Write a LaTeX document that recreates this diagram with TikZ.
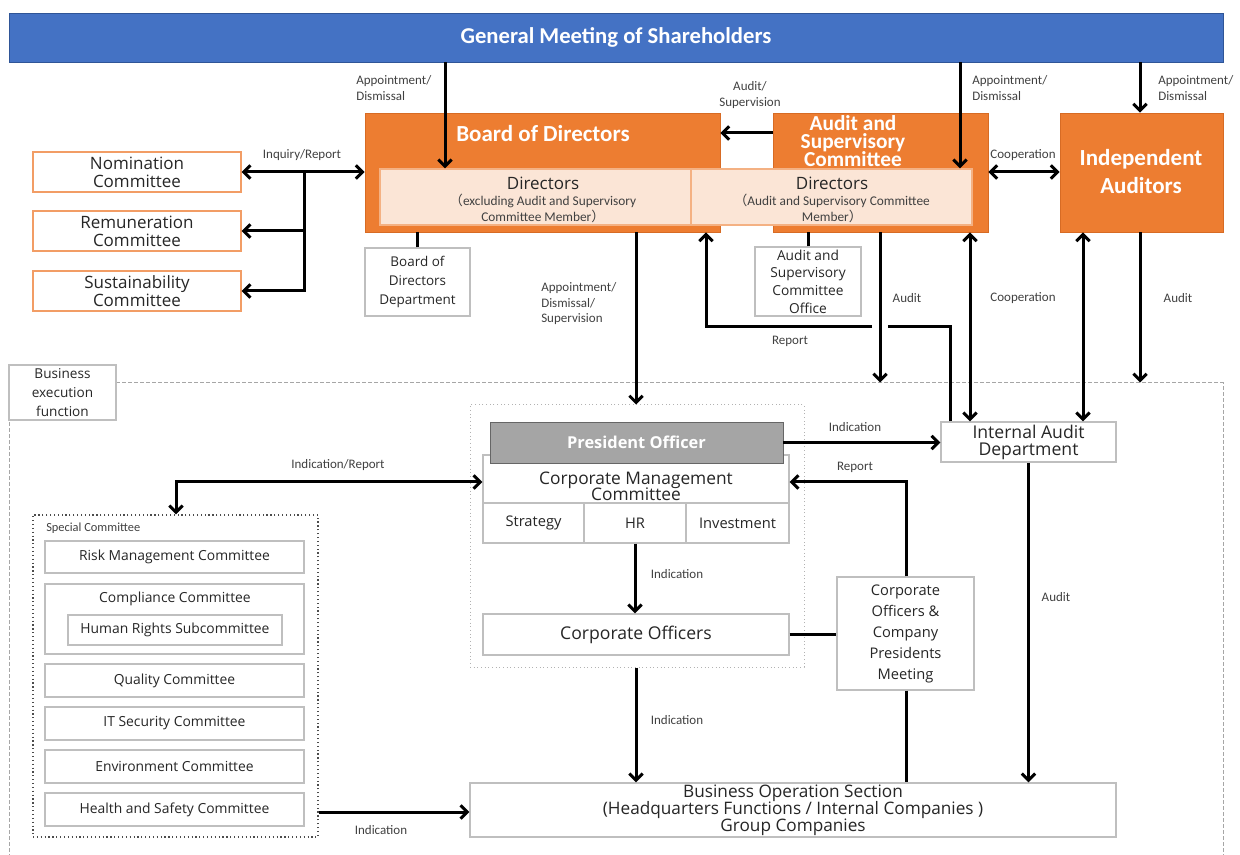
\documentclass[tikz,border=0pt]{standalone}
\usepackage{fontspec}
\setmainfont{Open Sans}
\newfontfamily\lblfont{Carlito}
\newfontfamily\cjkf{Noto Sans CJK JP}
\usetikzlibrary{arrows.meta}
\definecolor{orng}{HTML}{ED7D31}
\definecolor{orngd}{HTML}{D76B24}
\definecolor{peach}{HTML}{FBE5D6}
\definecolor{peachb}{HTML}{F4B183}
\definecolor{blu}{HTML}{4472C4}
\definecolor{blud}{HTML}{2F5597}
\definecolor{presg}{HTML}{A5A5A5}
\definecolor{bordg}{HTML}{BFBFBF}
\definecolor{txt}{HTML}{262626}
\definecolor{lbl}{HTML}{404040}
\setlength{\lineskiplimit}{-50pt}
\newcommand{\fs}[2]{\fontsize{#1}{#2}\selectfont}
\begin{document}
\begin{tikzpicture}[x=0.75pt,y=-0.75pt,
  >={Straight Barb[length=5pt,width=10pt]},
  arr/.style={line width=2.25pt,->},
  barr/.style={line width=2.25pt,<->},
  ln/.style={line width=2.25pt},
  bxat/.style n args={4}{at={({(#1+#3)/2},{(#2+#4)/2})},minimum width={(#3-#1)*0.75pt},minimum height={(#4-#2)*0.75pt},inner sep=0pt,rectangle},
  gbox/.style={draw=bordg,line width=1.1pt,fill=white,text=txt,align=center},
  obox/.style={draw=orngd,line width=0.6pt,fill=orng},
  cbox/.style={draw=orng!75,line width=1pt,fill=white,text=txt,align=center,font=\fs{12.75}{13.5}},
  pbox/.style={draw=peachb,line width=1pt,fill=peach},
  otitle/.style={text=white,font=\lblfont\bfseries\fs{17.25}{12.75},align=center,inner sep=0pt},
  lab/.style={text=lbl,font=\lblfont\fs{9.75}{11.6},inner sep=0pt},
  labw/.style={lab,align=left,anchor=west},
  labc/.style={lab,align=center},
  sbox/.style={gbox,font=\fs{10.4}{12}},
  ttxt/.style={inner sep=0pt,text=txt,align=center},
]
\useasboundingbox (0,0) rectangle (1240,855);

% ---------- top ----------
\node[bxat={9}{13}{1223}{62},fill=blu,draw=blud,line width=0.6pt,text=white,font=\lblfont\bfseries\fs{17}{20}] (gms) {General Meeting of Shareholders};

\node[obox,bxat={365}{113}{720}{232}] (bod) {};
\node[otitle] (bodt) at (543,134) {Board of Directors};
\node[obox,bxat={773}{113}{988}{232}] (asc) {};
\node[otitle,font=\lblfont\bfseries\fs{16}{13.6}] (asct) at (853,141) {Audit and\\Supervisory\\Committee};
\node[obox,bxat={1060}{113}{1223}{232}] (iaud) {};
\node[otitle,font=\lblfont\bfseries\fs{17.25}{21}] (iaudt) at (1141,172) {Independent\\Auditors};

\node[pbox,bxat={380}{169}{695}{225}] (dirx) {};
\node[pbox,bxat={691}{169}{972}{225}] (dira) {};
\node[ttxt,font=\fs{12.75}{14}] (dirxt) at (543,183) {Directors};
\node[ttxt,text=lbl,font=\lblfont\fs{10}{12}] (dirxs) at (543,208) {{\cjkf （}excluding Audit and Supervisory\\Committee Member{\cjkf ）}};
\node[ttxt,font=\fs{12.75}{14}] (dirat) at (832,183) {Directors};
\node[ttxt,text=lbl,font=\lblfont\fs{10}{12}] (diras) at (832,208) {{\cjkf （}Audit and Supervisory Committee\\Member{\cjkf ）}};

\node[cbox,bxat={33}{152}{241}{192}] (nom) {Nomination\\Committee};
\node[cbox,bxat={33}{211}{241}{251}] (rem) {Remuneration\\Committee};
\node[cbox,bxat={33}{271}{241}{311}] (sus) {Sustainability\\Committee};

\node[gbox,font=\fs{10.1}{14.25},bxat={365}{248}{470}{316}] (bodd) {Board of\\Directors\\Department};
\node[gbox,font=\fs{10.3}{13.3},bxat={755}{247}{861}{316}] (asco) {Audit and\\Supervisory\\Committee\\Office};

% ---------- business execution ----------
\node[draw=gray!70,dash pattern=on 3pt off 1.5pt,line width=0.75pt,bxat={9}{383}{1223}{880}] (bex) {};
\node[gbox,font=\fs{10.2}{14.25},bxat={9}{365}{116}{420}] (bexl) {Business\\execution\\function};

\node[draw=gray!60,dotted,line width=0.75pt,bxat={470}{405}{804}{667}] (pgrp) {};
\node[gbox,bxat={483}{455}{789}{503}] (cmc) {};
\node[ttxt,font=\fs{13}{12}] (cmct) at (636,486) {Corporate Management\\Committee};
\node[gbox,bxat={483}{503}{584}{543},font=\fs{11}{13}] (strat) {Strategy};
\node[gbox,bxat={584}{503}{686}{543},font=\fs{11}{13}] (hr) {HR};
\node[gbox,bxat={686}{503}{789}{543},font=\fs{11}{13}] (inv) {Investment};
\node[fill=presg,draw=gray!80!black,line width=0.6pt,bxat={490}{422}{783}{463},text=white,font=\bfseries\fs{12.3}{13}] (pres) {President Officer};
\node[gbox,bxat={483}{614}{789}{655},font=\fs{13.2}{15}] (co) {Corporate Officers};
\node[gbox,bxat={837}{577}{974}{690},font=\fs{11}{15.75}] (cop) {Corporate\\Officers \&\\Company\\Presidents\\Meeting};
\node[gbox,bxat={941}{422}{1116}{462},font=\fs{13.2}{12.75}] (iad) {Internal Audit\\Department};
\node[gbox,bxat={470}{783}{1116}{837},font=\fs{12.9}{12.75}] (bos) {Business Operation Section\\(Headquarters Functions / Internal Companies )\\Group Companies};

\node[draw=black!70,dotted,line width=0.9pt,bxat={33}{515}{318}{837}] (spc) {};
\node[lab,anchor=west,font=\lblfont\fs{9.3}{11}] (spcl) at (46,528) {Special Committee};
\node[sbox,bxat={45}{541}{304}{573}] (risk) {Risk Management Committee};
\node[sbox,bxat={45}{584}{304}{654}] (comp) {};
\node[ttxt,font=\fs{10.4}{12}] (compt) at (175,599) {Compliance Committee};
\node[sbox,bxat={68}{615}{282}{645}] (hrs) {Human Rights Subcommittee};
\node[sbox,bxat={45}{664}{304}{697}] (qual) {Quality Committee};
\node[sbox,bxat={45}{707}{304}{740}] (its) {IT Security Committee};
\node[sbox,bxat={45}{750}{304}{783}] (env) {Environment Committee};
\node[sbox,bxat={45}{793}{304}{826}] (hs) {Health and Safety Committee};

% ---------- connectors ----------
\draw[arr] (gms.south -| 445,0) -- (dirx.north -| 445,0);
\draw[arr] (gms.south -| 960,0) -- (dira.north -| 960,0);
\draw[arr] (gms.south -| 1140,0) -- (iaud.north -| 1140,0);
\draw[arr] (asc.west |- 0,133) -- (bod.east |- 0,133);
\draw[barr] (bod.west |- nom.east) -- (nom.east);
\coordinate (br) at (304,172);
\draw[arr] (br) -- (br |- sus.east) -- (sus.east);
\draw[arr] (br |- rem.east) -- (rem.east);
\draw[ln] (bodd.north) -- (bodd.north |- bod.south);
\draw[ln] (asco.north) -- (asco.north |- asc.south);
\draw[barr] (asc.east |- 0,172) -- (iaud.west |- 0,172);
\draw[arr] (bod.south -| 636,0) -- (pgrp.north -| 636,0);
\draw[arr] (asc.south -| 880,0) -- (bex.north -| 880,0);
\draw[barr] (asc.south -| 970,0) -- (iad.north -| 970,0);
\draw[barr] (iaud.south -| 1083,0) -- (iad.north -| 1083,0);
\draw[arr] (iaud.south -| 1140,0) -- (bex.north -| 1140,0);
\coordinate (rpa) at (950,327);
\coordinate (rpb) at (888,327);
\coordinate (rpc) at (872,327);
\coordinate (rpd) at (706,327);
\draw[ln] (iad.north -| rpa) -- (rpa) -- (rpb);
\draw[arr] (rpc) -- (rpd) -- (rpd |- bod.south);
\draw[arr] (pres.east) -- (iad.west |- pres.east);
\coordinate (rq) at (906,482);
\draw[arr] (cop.north -| rq) -- (rq) -- (cmc.east |- rq);
\draw[ln] (co.east) -- (co.east -| cop.west);
\draw[ln] (cop.south -| rq) -- (bos.north -| rq);
\draw[arr] (iad.south) -- (bos.north -| iad.south);
\draw[arr] (hr.south) -- (co.north -| hr.south);
\draw[arr] (pgrp.south -| 636,0) -- (bos.north -| 636,0);
\coordinate (ir) at (176,482);
\draw[barr] (cmc.west |- ir) -- (ir) -- (spc.north -| ir);
\draw[arr] (spc.east |- 0,812) -- (bos.west |- 0,812);

% ---------- labels ----------
\node[labw] (l1) at (356,88) {Appointment/\\Dismissal};
\node[labw] (l2) at (972,88) {Appointment/\\Dismissal};
\node[labw] (l3) at (1158,88) {Appointment/\\Dismissal};
\node[labc] (l4) at (750,95) {Audit/\\Supervision};
\node[labc] (l5) at (302,155) {Inquiry/Report};
\node[labc] (l6) at (1023,155) {Cooperation};
\node[labw] (l7) at (541,304) {Appointment/\\Dismissal/\\Supervision};
\node[labc] (l8) at (907,298) {Audit};
\node[labc] (l9) at (1023,298) {Cooperation};
\node[labc] (l10) at (1178,298) {Audit};
\node[labc] (l11) at (790,341) {Report};
\node[labc] (l12) at (855,427) {Indication};
\node[labc] (l13) at (855,467) {Report};
\node[labc] (l14) at (338,465) {Indication/Report};
\node[labc] (l15) at (677,574) {Indication};
\node[labc] (l16) at (1056,597) {Audit};
\node[labc] (l17) at (677,720) {Indication};
\node[labc] (l18) at (381,830) {Indication};
\end{tikzpicture}
\end{document}
